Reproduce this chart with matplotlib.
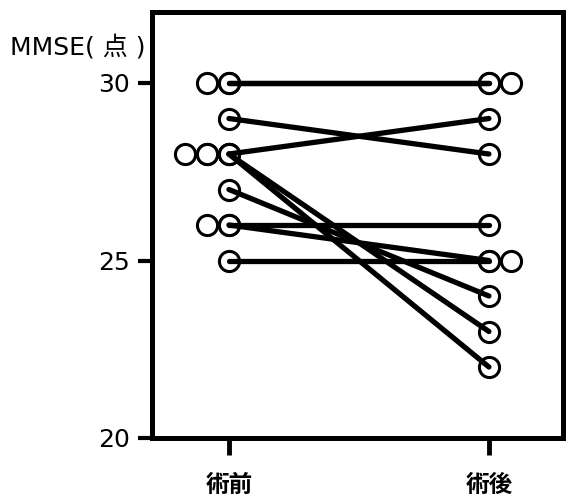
import matplotlib.pyplot as plt

plt.rcParams['font.family'] = ['DejaVu Sans', 'Noto Sans CJK JP']

# MMSE scores per patient, before and after surgery
pre = [30, 30, 29, 28, 28, 28, 27, 26, 26, 25]
post = [30, 30, 28, 29, 23, 22, 24, 26, 25, 25]
# side-by-side circles for tied values
pre_dup = [30, 28, 28, 26]
pre_dup_off = [1, 1, 2, 1]
post_dup = [30, 25]
post_dup_off = [1, 1]
xlabels = ['術前', '術後']
yticks = [20, 25, 30]

fig = plt.figure(figsize=(5.66, 4.97), dpi=100)
ax = fig.add_axes([152/566, 1 - 438/497, (563 - 152)/566, (438 - 12)/497])

step = 0.085
ms = 14.5
mew = 2.2

# extra circles for ties
for v, k in zip(pre_dup, pre_dup_off):
    for i in range(1, k + 1):
        ax.plot(0 - i*step, v, 'o', ms=ms, mfc='white', mec='black', mew=mew, zorder=2)
for v, k in zip(post_dup, post_dup_off):
    for i in range(1, k + 1):
        ax.plot(1 + i*step, v, 'o', ms=ms, mfc='white', mec='black', mew=mew, zorder=2)

# main circles
for a, b in zip(pre, post):
    ax.plot([0, 1], [a, b], 'o', ms=ms, mfc='white', mec='black', mew=mew, zorder=3)
# lines over circles
for a, b in zip(pre, post):
    ax.plot([0, 1], [a, b], '-', color='black', lw=3.8, solid_capstyle='round', zorder=4)

ax.set_xlim(-0.296, 1.285)
ax.set_ylim(20, 32)
ax.set_yticks(yticks)
ax.set_yticklabels([str(t) for t in yticks], fontsize=18)
ax.set_xticks([0, 1])
ax.set_xticklabels(xlabels, fontsize=17, fontweight='bold', family=['Noto Sans CJK JP'])
ax.tick_params(axis='y', direction='out', length=10, width=3, pad=6)
ax.tick_params(axis='x', direction='out', length=12, width=3.5, pad=13)
for s in ax.spines.values():
    s.set_linewidth(3.6)

fig.text(10/566, 1 - 47/497, 'MMSE( 点 )', fontsize=18, va='center', ha='left',
         family=['DejaVu Sans', 'Noto Sans CJK JP'])

fig.savefig('out.png', dpi=100)
